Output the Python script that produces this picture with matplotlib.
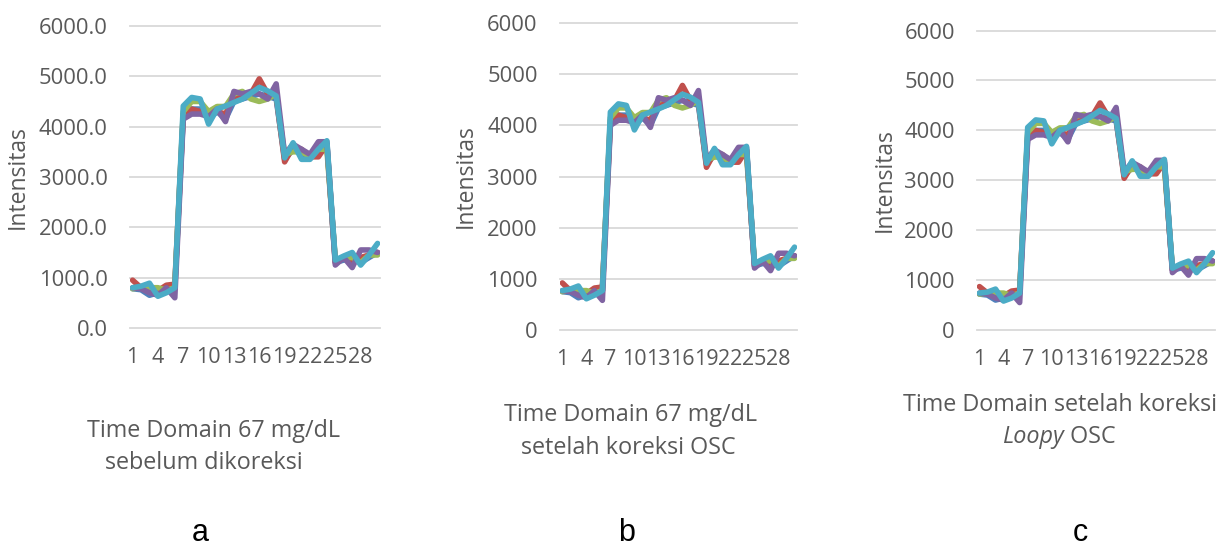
import matplotlib
matplotlib.use("Agg")
import matplotlib.pyplot as plt
from matplotlib.ticker import FormatStrFormatter

# x categories (time points)
points = list(range(1, 31))
tick_points = [1, 4, 7, 10, 13, 16, 19, 22, 25, 28]

# --- a: sebelum dikoreksi ---
blue_a = [780, 760, 650, 700, 750, 800, 4200, 4350, 4350, 4150, 4300, 4150, 4500, 4550, 4600,
          4650, 4600, 4550, 3350, 3550, 3450, 3400, 3500, 3650, 1300, 1350, 1350, 1300, 1400, 1500]
red_a = [950, 800, 720, 740, 850, 870, 4250, 4350, 4300, 4250, 4300, 4250, 4600, 4650, 4650,
         4950, 4650, 4600, 3300, 3600, 3550, 3400, 3400, 3650, 1300, 1400, 1300, 1400, 1450, 1500]
green_a = [780, 800, 800, 800, 750, 800, 4300, 4500, 4500, 4300, 4400, 4400, 4650, 4700, 4550,
           4500, 4550, 4650, 3450, 3500, 3500, 3400, 3550, 3550, 1350, 1400, 1400, 1300, 1450, 1450]
purple_a = [800, 780, 700, 650, 800, 600, 4150, 4250, 4250, 4200, 4350, 4100, 4700, 4650, 4700,
            4650, 4550, 4850, 3450, 3650, 3550, 3450, 3700, 3700, 1250, 1400, 1200, 1550, 1550, 1500]
cyan_a = [800, 830, 890, 630, 700, 800, 4410, 4580, 4550, 4050, 4350, 4410, 4480, 4550, 4660,
          4780, 4710, 4610, 3380, 3680, 3350, 3350, 3550, 3720, 1350, 1430, 1500, 1250, 1450, 1680]

# --- b: setelah koreksi OSC ---
blue_b = [750, 730, 630, 680, 720, 770, 4050, 4200, 4200, 4000, 4150, 4000, 4340, 4390, 4440,
          4490, 4440, 4390, 3230, 3430, 3330, 3280, 3380, 3520, 1250, 1300, 1300, 1250, 1350, 1450]
red_b = [920, 770, 690, 710, 820, 840, 4100, 4200, 4150, 4100, 4150, 4100, 4440, 4490, 4490,
         4780, 4490, 4440, 3180, 3470, 3430, 3280, 3280, 3520, 1250, 1350, 1250, 1350, 1400, 1450]
green_b = [750, 770, 770, 770, 720, 770, 4150, 4340, 4340, 4150, 4250, 4250, 4490, 4540, 4390,
           4340, 4390, 4490, 3330, 3380, 3380, 3280, 3430, 3430, 1300, 1350, 1350, 1250, 1400, 1400]
purple_b = [770, 750, 680, 630, 770, 580, 4000, 4100, 4100, 4050, 4200, 3960, 4540, 4490, 4540,
            4490, 4390, 4680, 3330, 3520, 3430, 3330, 3570, 3570, 1210, 1350, 1160, 1500, 1500, 1450]
cyan_b = [770, 800, 860, 610, 680, 770, 4260, 4420, 4390, 3910, 4200, 4260, 4320, 4390, 4500,
          4610, 4550, 4450, 3260, 3550, 3230, 3230, 3430, 3590, 1300, 1380, 1450, 1210, 1400, 1620]

# --- c: setelah koreksi Loopy OSC ---
blue_c = [720, 700, 600, 640, 690, 740, 3860, 4000, 4000, 3820, 3960, 3820, 4140, 4190, 4230,
          4280, 4230, 4190, 3080, 3270, 3170, 3130, 3220, 3360, 1200, 1240, 1240, 1200, 1290, 1380]
red_c = [870, 740, 660, 680, 780, 800, 3910, 4000, 3960, 3910, 3960, 3910, 4230, 4280, 4280,
         4550, 4280, 4230, 3040, 3310, 3270, 3130, 3130, 3360, 1200, 1290, 1200, 1290, 1330, 1380]
green_c = [720, 740, 740, 740, 690, 740, 3960, 4140, 4140, 3960, 4050, 4050, 4280, 4320, 4190,
           4140, 4190, 4280, 3170, 3220, 3220, 3130, 3270, 3270, 1240, 1290, 1290, 1200, 1330, 1330]
purple_c = [740, 720, 640, 600, 740, 550, 3820, 3910, 3910, 3860, 4000, 3770, 4320, 4280, 4320,
            4280, 4190, 4460, 3170, 3360, 3270, 3170, 3400, 3400, 1150, 1290, 1100, 1430, 1430, 1380]
cyan_c = [740, 760, 820, 580, 640, 740, 4060, 4210, 4190, 3730, 4000, 4060, 4120, 4190, 4290,
          4400, 4330, 4240, 3110, 3390, 3080, 3080, 3270, 3420, 1240, 1320, 1380, 1150, 1330, 1550]

# Excel-like palette, drawn in this order (cyan ends up on top)
colors = ['#4F81BD', '#C0504D', '#9BBB59', '#8064A2', '#4BACC6']

TXT = '#595959'
FONT = 'Open Sans'
plt.rcParams['font.family'] = [FONT, 'DejaVu Sans']


def draw_panel(ax, series, fmt, ylabel_x):
    for vals, col in zip(series, colors):
        ax.plot(points, vals, color=col, linewidth=4.0,
                solid_joinstyle='round', solid_capstyle='round')
    ax.set_xlim(0.7, 30.3)
    ax.set_ylim(0, 6000)
    ax.set_yticks(range(0, 6001, 1000))
    ax.yaxis.set_major_formatter(FormatStrFormatter(fmt))
    ax.set_xticks(tick_points)
    ax.set_xticklabels([str(t) for t in tick_points])
    ax.grid(axis='y', color='#D9D9D9', linewidth=1.3)
    ax.set_axisbelow(True)
    for s in ax.spines.values():
        s.set_visible(False)
    ax.tick_params(axis='y', length=0, pad=16, labelsize=15.8, labelcolor=TXT)
    ax.tick_params(axis='x', length=0, pad=14, labelsize=15.5, labelcolor=TXT)
    ax.set_ylabel('Intensitas', fontsize=16.5, color=TXT, va='center')
    ax.yaxis.set_label_coords(ylabel_x, 0.5)
    for line in ax.get_ygridlines():
        line.set_clip_on(False)


fig = plt.figure(figsize=(12.21, 5.48), dpi=100)

ax_a = fig.add_axes([0.1065, 0.4015, 0.2048, 0.5511])
draw_panel(ax_a, [blue_a, red_a, green_a, purple_a, cyan_a], '%.1f', -0.448)

ax_b = fig.add_axes([0.4586, 0.3978, 0.1941, 0.5602])
draw_panel(ax_b, [blue_b, red_b, green_b, purple_b, cyan_b], '%d', -0.397)

ax_c = fig.add_axes([0.8002, 0.3978, 0.1949, 0.5464])
draw_panel(ax_c, [blue_c, red_c, green_c, purple_c, cyan_c], '%d', -0.387)

W, H = 1221.0, 548.0


def ftext(x, y, s, **kw):
    # place text with pixel coordinates measured from the top-left corner
    fig.text(x / W, 1 - y / H, s, ha=kw.pop('ha', 'center'), va='center',
             color=kw.pop('color', TXT), fontsize=kw.pop('fontsize', 16.8), **kw)


# chart titles under the axes
ftext(214, 431, 'Time Domain 67 mg/dL')
ftext(204, 463, 'sebelum dikoreksi')
ftext(631, 415, 'Time Domain 67 mg/dL')
ftext(628, 448, 'setelah koreksi OSC')
ftext(1060, 405, 'Time Domain setelah koreksi')
ftext(1064, 437, 'Loopy', ha='right', style='italic')
ftext(1064, 437, ' OSC', ha='left')

# panel letters
ftext(200, 533, 'a', color='black', fontsize=22, family='Liberation Sans')
ftext(627, 533, 'b', color='black', fontsize=22, family='Liberation Sans')
ftext(1080, 533, 'c', color='black', fontsize=22, family='Liberation Sans')

fig.savefig('out.png', dpi=100)
